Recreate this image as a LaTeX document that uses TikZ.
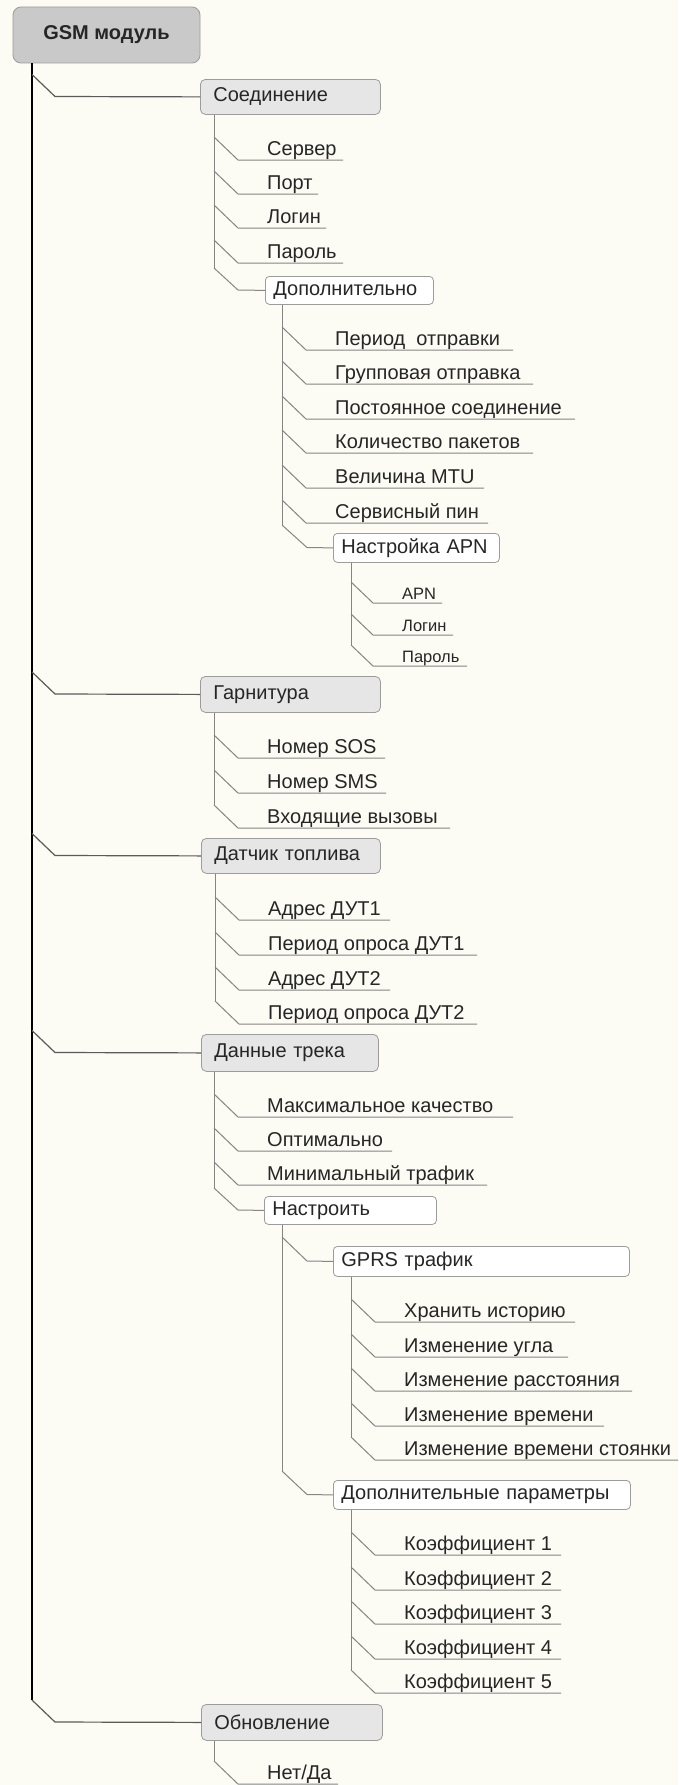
\documentclass[tikz,border=0pt]{standalone}
\usepackage{fontspec}
\setmainfont{Liberation Sans}
\definecolor{bgcol}{HTML}{FCFCF5}
\definecolor{txtcol}{HTML}{262626}
\definecolor{gsmfill}{HTML}{C9C9C9}
\definecolor{catfill}{HTML}{E6E6E6}
\definecolor{boxline}{HTML}{9C9C9C}
\definecolor{linecol}{HTML}{858585}
\definecolor{branchcol}{HTML}{5A5A5A}
\newcommand\mmfont{\fontsize{20}{24}\selectfont}
\newcommand\mmsfont{\fontsize{16.5}{20}\selectfont}
% leaf: name, vx, underline y, underline end x, text
\newcommand\mmleaf[5]{%
  \node[leaftext, anchor=base west] (#1) at ({#2+53},{#3-5}) {#5};
  \coordinate (#1-u) at ({#4},{#3});
  \draw[conn] ({#2},{#3-23}) -- ({#2+24},{#3}) -- (#1-u);
}
\newcommand\mmsleaf[5]{%
  \node[leaftext, font=\mmsfont, anchor=base west] (#1) at ({#2+51},{#3-4}) {#5};
  \coordinate (#1-u) at ({#4},{#3});
  \draw[conn] ({#2},{#3-21}) -- ({#2+22},{#3}) -- (#1-u);
}
\begin{document}
\begin{tikzpicture}[x=1pt,y=-1pt,
  leaftext/.style={inner sep=0pt, text=txtcol, font=\mmfont},
  conn/.style={draw=linecol, line width=1pt},
  branch/.style={draw=branchcol, line width=1.2pt},
  trunk/.style={draw=black, line width=2pt},
  gsmbox/.style={draw=boxline, fill=gsmfill, rounded corners=8pt, line width=0.8pt,
    minimum width=187pt, minimum height=56pt, inner sep=0pt, text=txtcol,
    font=\mmfont\bfseries},
  catbox/.style={draw=boxline, fill=catfill, rounded corners=5pt, line width=0.8pt,
    inner xsep=13pt, inner ysep=0pt, align=left, anchor=north west,
    text=txtcol, font=\mmfont},
  subbox/.style={draw=boxline, fill=white, rounded corners=4pt, line width=0.8pt,
    inner xsep=8pt, inner ysep=0pt, align=left, anchor=north west,
    text=txtcol, font=\mmfont}]
\useasboundingbox (0,0) rectangle (678,1785);
\fill[bgcol] (0,0) rectangle (678,1785);

% root
\node[gsmbox] (gsm) at (106.5,35) {GSM модуль};
\draw[trunk] (gsm.south -| 32,0) -- (32,1700);

% level 1 boxes
\node[catbox, text width=154pt, minimum height=35pt] (soed) at (200,79) {Соединение};
\node[catbox, text width=154pt, minimum height=36pt] (garn) at (200,676) {Гарнитура};
\node[catbox, text width=153pt, minimum height=35pt] (dut) at (201,838) {Датчик топлива};
\node[catbox, text width=151pt, minimum height=37pt] (track) at (201,1034) {Данные трека};
\node[catbox, text width=155pt, minimum height=36pt] (obn) at (201,1704) {Обновление};

\draw[branch] (32,74.5) -- (55,96.5) -- (soed.west);
\draw[branch] (32,672) -- (55,694) -- (garn.west);
\draw[branch] (32,833.5) -- (55,855.5) -- (dut.west);
\draw[branch] (32,1030.5) -- (55,1052.5) -- (track.west);
\draw[branch] (32,1700) -- (55,1722) -- (obn.west);

% Соединение
\draw[conn] (soed.south -| 214,0) -- (214,268);
\mmleaf{server}{214}{160}{343}{Сервер}
\mmleaf{port}{214}{194}{318}{Порт}
\mmleaf{login}{214}{228}{326}{Логин}
\mmleaf{pass}{214}{263}{343}{Пароль}
\node[subbox, text width=152pt, minimum height=28pt] (dop) at (265,276) {Дополнительно};
\draw[conn] (214,268) -- (238,290) -- (dop.west);

% Дополнительно
\draw[conn] (dop.south -| 282,0) -- (282,525);
\mmleaf{period}{282}{350}{513}{Период~ отправки}
\mmleaf{group}{282}{384}{533}{Групповая отправка}
\mmleaf{const}{282}{419}{575}{Постоянное соединение}
\mmleaf{count}{282}{453}{533}{Количество пакетов}
\mmleaf{mtu}{282}{488}{484}{Величина MTU}
\mmleaf{pin}{282}{523}{488}{Сервисный пин}
\node[subbox, text width=150pt, minimum height=29pt] (apn) at (333,533) {Настройка APN};
\draw[conn] (282,525) -- (307,547.5) -- (apn.west);

% Настройка APN
\draw[conn] (apn.south -| 351,0) -- (351,645);
\mmsleaf{apnname}{351}{603}{442}{APN}
\mmsleaf{apnlogin}{351}{635}{453}{Логин}
\mmsleaf{apnpass}{351}{666}{467}{Пароль}

% Гарнитура
\draw[conn] (garn.south -| 214,0) -- (214,805);
\mmleaf{sos}{214}{758}{385}{Номер SOS}
\mmleaf{sms}{214}{793}{386}{Номер SMS}
\mmleaf{calls}{214}{828}{450}{Входящие вызовы}

% Датчик топлива
\draw[conn] (dut.south -| 215,0) -- (215,1001);
\mmleaf{addr1}{215}{920}{390}{Адрес ДУТ1}
\mmleaf{per1}{215}{955}{477}{Период опроса ДУТ1}
\mmleaf{addr2}{215}{990}{390}{Адрес ДУТ2}
\mmleaf{per2}{215}{1024}{477}{Период опроса ДУТ2}

% Данные трека
\draw[conn] (track.south -| 214,0) -- (214,1188);
\mmleaf{maxq}{214}{1117}{513}{Максимальное качество}
\mmleaf{opt}{214}{1151}{392}{Оптимально}
\mmleaf{mint}{214}{1185}{487}{Минимальный трафик}
\node[subbox, text width=156pt, minimum height=28pt] (nastr) at (264,1196) {Настроить};
\draw[conn] (214,1188) -- (238,1210) -- (nastr.west);

% Настроить
\draw[conn] (nastr.south -| 282,0) -- (282,1471);
\node[subbox, text width=280pt, minimum height=30pt] (gprs) at (333,1246) {GPRS трафик};
\draw[conn] (282,1237) -- (307,1261) -- (gprs.west);
\node[subbox, text width=281pt, minimum height=29pt] (dp) at (333,1480) {Дополнительные параметры};
\draw[conn] (282,1471) -- (307,1494.5) -- (dp.west);

% GPRS трафик
\draw[conn] (gprs.south -| 351,0) -- (351,1437);
\mmleaf{hist}{351}{1322}{575}{Хранить историю}
\mmleaf{angle}{351}{1357}{568}{Изменение угла}
\mmleaf{dist}{351}{1391}{632}{Изменение расстояния}
\mmleaf{time}{351}{1426}{604}{Изменение времени}
\mmleaf{stop}{351}{1460}{678}{Изменение времени стоянки}

% Дополнительные параметры
\draw[conn] (dp.south -| 351,0) -- (351,1670);
\mmleaf{k1}{351}{1555}{561}{Коэффициент 1}
\mmleaf{k2}{351}{1590}{561}{Коэффициент 2}
\mmleaf{k3}{351}{1624}{561}{Коэффициент 3}
\mmleaf{k4}{351}{1659}{561}{Коэффициент 4}
\mmleaf{k5}{351}{1693}{561}{Коэффициент 5}

% Обновление
\draw[conn] (obn.south -| 214,0) -- (214,1761);
\mmleaf{nety}{214}{1784}{338}{Нет/Да}
\end{tikzpicture}
\end{document}
